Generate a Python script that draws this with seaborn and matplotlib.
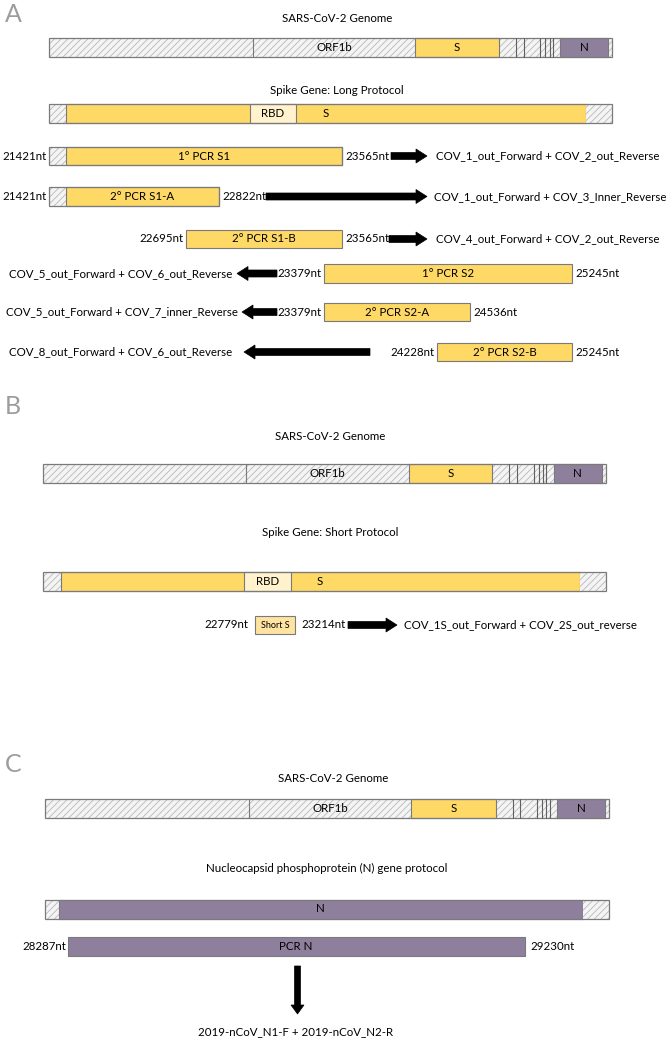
import matplotlib
matplotlib.use("Agg")
import matplotlib.pyplot as plt
from matplotlib.patches import Rectangle, FancyArrow
import seaborn as sns

# ---------------- data ----------------
panel_letters = ["A", "B", "C"]
genome_title = "SARS-CoV-2 Genome"
genome_labels = ["ORF1b", "S", "N"]
# relative boundaries inside the genome bar (fraction of bar length)
genome_bounds = [0.362, 0.650, 0.799, 0.829, 0.843, 0.872, 0.881, 0.889, 0.895, 0.908, 0.993]

long_title = "Spike Gene: Long Protocol"
pcr_labels = ["1° PCR S1", "2° PCR S1-A", "2° PCR S1-B", "1° PCR S2", "2° PCR S2-A", "2° PCR S2-B"]
pcr_start_nt = [21421, 21421, 22695, 23379, 23379, 24228]
pcr_end_nt = [23565, 22822, 23565, 25245, 24536, 25245]
pcr_primers = ["COV_1_out_Forward + COV_2_out_Reverse",
               "COV_1_out_Forward + COV_3_Inner_Reverse",
               "COV_4_out_Forward + COV_2_out_Reverse",
               "COV_5_out_Forward + COV_6_out_Reverse",
               "COV_5_out_Forward + COV_7_inner_Reverse",
               "COV_8_out_Forward + COV_6_out_Reverse"]
pcr_direction = ["right", "right", "right", "left", "left", "left"]

short_title = "Spike Gene: Short Protocol"
short_label = "Short S"
short_start_nt = 22779
short_end_nt = 23214
short_primers = "COV_1S_out_Forward + COV_2S_out_reverse"

n_title = "Nucleocapsid phosphoprotein (N) gene protocol"
n_label = "PCR N"
n_start_nt = 28287
n_end_nt = 29230
n_primers = "2019-nCoV_N1-F + 2019-nCoV_N2-R"

# ---------------- layout (pixels) ----------------
pcr_span = [(49, 342), (49, 219), (186, 342), (324, 572), (324, 470), (437, 572)]
pcr_hatch = [True, True, False, False, False, False]
pcr_y = [156, 196.5, 239, 273.5, 312, 352]
pcr_arrow = [(391, 427), (266, 427), (389, 427), (277, 237), (277, 242), (370, 244)]
pcr_text_x = [436, 434, 436, 232, 238, 232]

# ---------------- style ----------------
sns.set_theme(style="white")
plt.rcParams["font.family"] = ["Lato", "DejaVu Sans"]
plt.rcParams["hatch.linewidth"] = 0.6

YELLOW = "#FFD966"
RBD_C = "#FFF2CC"
SHORT_C = "#FFE3A0"
PURPLE = "#8E809D"
HATCH_BG = "#F4F4F4"
HATCH_LN = "#B8B8B8"
EDGE = "#7A7A7A"
FS = 8.3

fig = plt.figure(figsize=(6.7, 10.5), dpi=100)
ax = fig.add_axes([0, 0, 1, 1])
ax.set_xlim(0, 670)
ax.set_ylim(1050, 0)
ax.axis("off")


def hatched(x0, x1, y0, h):
    ax.add_patch(Rectangle((x0, y0), x1 - x0, h, facecolor=HATCH_BG, edgecolor=HATCH_LN,
                           hatch="/////", linewidth=0))


def solid(x0, x1, y0, h, color, lw=0.8):
    ax.add_patch(Rectangle((x0, y0), x1 - x0, h, facecolor=color, edgecolor=EDGE, linewidth=lw))


def outline(x0, x1, y0, h):
    ax.add_patch(Rectangle((x0, y0), x1 - x0, h, fill=False, edgecolor=EDGE, linewidth=0.9))


def label(x, y, s, ha="center", size=FS, **kw):
    ax.text(x, y, s, ha=ha, va="center", fontsize=size, color="black", **kw)


def genome(x0, x1, y0, h=18.5):
    w = x1 - x0
    b = [x0 + f * w for f in genome_bounds]
    hatched(x0, x1, y0, h)
    ax.plot([b[0], b[0]], [y0, y0 + h], color=EDGE, lw=0.8)
    solid(b[1], b[2], y0, h, YELLOW)
    for bx in b[3:9]:
        ax.plot([bx, bx], [y0, y0 + h], color="#606060", lw=0.8)
    solid(b[9], b[10], y0, h, PURPLE)
    outline(x0, x1, y0, h)
    cy = y0 + h / 2
    label((b[0] + b[1]) / 2, cy, genome_labels[0])
    label((b[1] + b[2]) / 2, cy, genome_labels[1])
    label((b[9] + b[10]) / 2, cy, genome_labels[2])


def spike(x0, x1, y0, h, hl, rbd0, rbd1, hr, s_x):
    hatched(x0, hl, y0, h)
    solid(hl, hr, y0, h, YELLOW)
    solid(rbd0, rbd1, y0, h, RBD_C)
    hatched(hr, x1, y0, h)
    outline(x0, x1, y0, h)
    label((rbd0 + rbd1) / 2, y0 + h / 2, "RBD")
    label(s_x, y0 + h / 2, "S")


def arrow(xa, xb, y):
    ax.add_patch(FancyArrow(xa, y, xb - xa, 0, width=7, head_width=14, head_length=11,
                            length_includes_head=True, facecolor="black", edgecolor="black",
                            linewidth=0.5))


letter_y = [14, 406, 764]
for L, ly in zip(panel_letters, letter_y):
    ax.text(5, ly, L, fontsize=18, color="#9C9C9C", ha="left", va="center", fontweight="normal")

# ---------------- panel A ----------------
label(337, 19, genome_title)
genome(49, 612, 38)
label(337, 91, long_title)
spike(49, 612, 104, 18.5, 66, 250, 296, 586, 326)

H = 18.5
for i in range(len(pcr_labels)):
    x0, x1 = pcr_span[i]
    y = pcr_y[i]
    y0 = y - H / 2
    if pcr_hatch[i]:
        hatched(x0, 66, y0, H)
        solid(66, x1, y0, H, YELLOW)
        outline(x0, x1, y0, H)
        cx = (66 + x1) / 2
    else:
        solid(x0, x1, y0, H, YELLOW)
        cx = (x0 + x1) / 2
    label(cx, y, pcr_labels[i])
    label(x0 - 2, y, f"{pcr_start_nt[i]}nt", ha="right")
    label(x1 + 3, y, f"{pcr_end_nt[i]}nt", ha="left")
    xa, xb = pcr_arrow[i]
    arrow(xa, xb, y)
    if pcr_direction[i] == "right":
        label(pcr_text_x[i], y, pcr_primers[i], ha="left")
    else:
        label(pcr_text_x[i], y, pcr_primers[i], ha="right")

# ---------------- panel B ----------------
label(330, 437, genome_title)
genome(42.6, 605.6, 464)
label(330, 533, short_title)
spike(42.6, 605.6, 572, 18.5, 60.5, 244, 291, 580, 320)
sy = 625
ax.add_patch(Rectangle((255, sy - 9), 40, 18, facecolor=SHORT_C, edgecolor=EDGE, linewidth=0.8))
label(275, sy, short_label, size=6.5)
label(248, sy, f"{short_start_nt}nt", ha="right")
label(301, sy, f"{short_end_nt}nt", ha="left")
arrow(348, 397, sy)
label(404, sy, short_primers, ha="left")

# ---------------- panel C ----------------
label(333, 778, genome_title)
genome(44.7, 609, 799)
label(327, 868, n_title)
hatched(44.7, 58.8, 900, 18.5)
solid(58.8, 582.5, 900, 18.5, PURPLE)
hatched(582.5, 609, 900, 18.5)
outline(44.7, 609, 900, 18.5)
label(320, 909, "N")
solid(68, 525.4, 937, 18.5, PURPLE)
label(296, 946, n_label)
label(66, 946, f"{n_start_nt}nt", ha="right")
label(530, 946, f"{n_end_nt}nt", ha="left")
ax.add_patch(FancyArrow(297.5, 966, 0, 48, width=6, head_width=13, head_length=9,
                        length_includes_head=True, facecolor="black", edgecolor="black", linewidth=0.5))
label(296, 1032, n_primers)

fig.savefig("out.png", dpi=100, facecolor="white")
